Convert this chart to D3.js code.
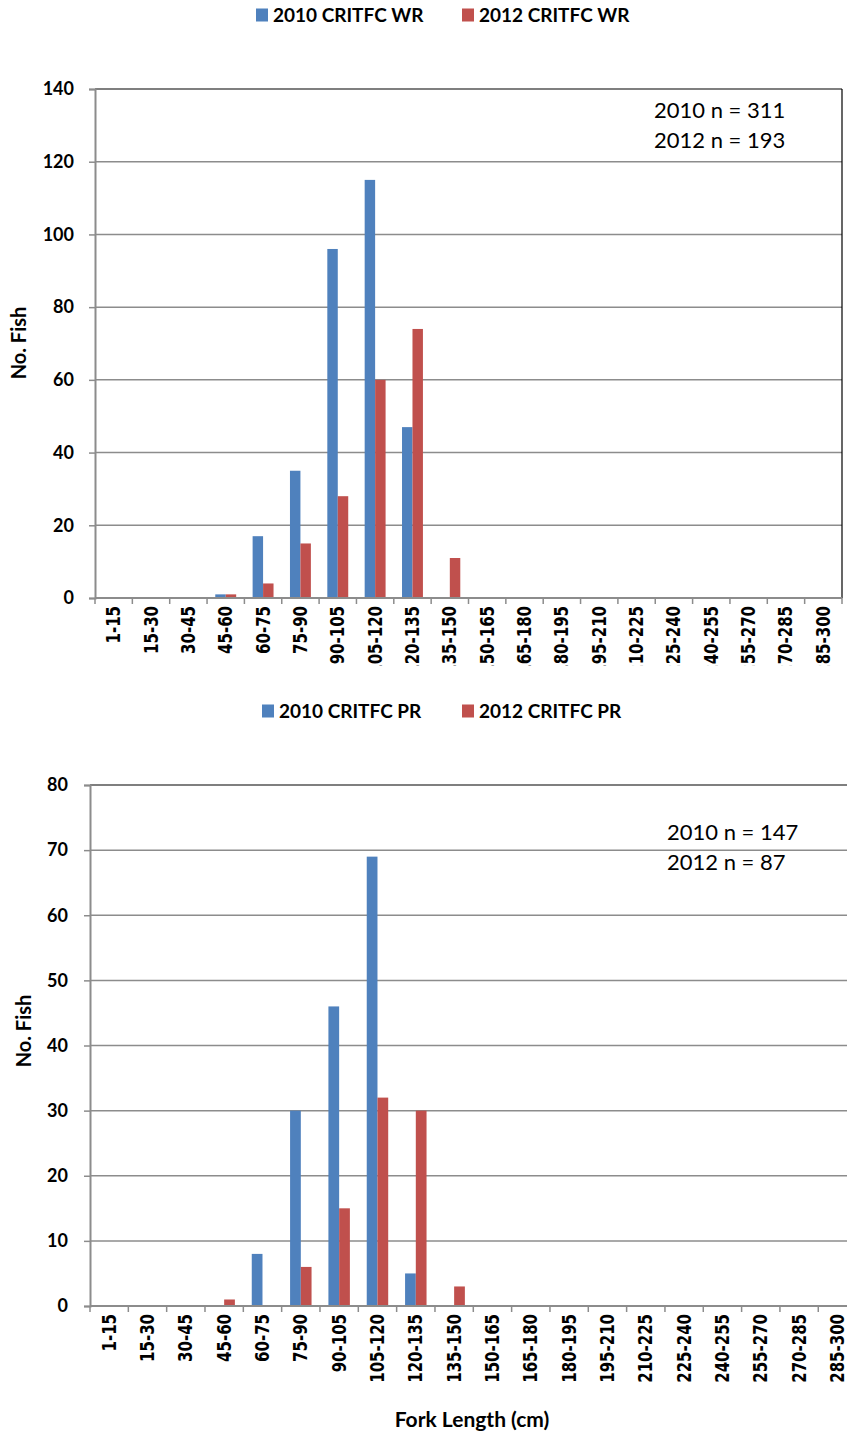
<!DOCTYPE html>
<html>
<head>
<meta charset="utf-8">
<script src="https://cdn.jsdelivr.net/npm/d3@7"></script>
<style>
  html, body { margin: 0; padding: 0; background: #fff; }
  svg { display: block; }
</style>
</head>
<body>
<svg id="chart" width="847" height="1439"></svg>
<script>
// Fork-length classes (cm)
const lengthBins = ["1-15","15-30","30-45","45-60","60-75","75-90","90-105","105-120",
  "120-135","135-150","150-165","165-180","180-195","195-210","210-225","225-240",
  "240-255","255-270","270-285","285-300"];

// Counts per length class
const wr2010 = [0,0,0,1,17,35,96,115,47,0,0,0,0,0,0,0,0,0,0,0];
const wr2012 = [0,0,0,1,4,15,28,60,74,11,0,0,0,0,0,0,0,0,0,0];
const pr2010 = [0,0,0,0,8,30,46,69,5,0,0,0,0,0,0,0,0,0,0,0];
const pr2012 = [0,0,0,1,0,6,15,32,30,3,0,0,0,0,0,0,0,0,0,0];

const yTicksWR = [0,20,40,60,80,100,120,140];
const yTicksPR = [0,10,20,30,40,50,60,70,80];

const seriesNamesWR = ["2010 CRITFC WR","2012 CRITFC WR"];
const seriesNamesPR = ["2010 CRITFC PR","2012 CRITFC PR"];
const sampleNotesWR = ["2010 n = 311","2012 n = 193"];
const sampleNotesPR = ["2010 n = 147","2012 n = 87"];

const colors = ["#4F81BD","#C0504D"];
const gridColor = "#8c8c8c";
const boldFont = "Lato, 'Open Sans', sans-serif";

const svg = d3.select("#chart");
const defs = svg.append("defs");

function drawPanel(opt) {
  const g = svg.append("g");
  const x = d3.scaleBand().domain(lengthBins).range([opt.left, opt.right]);
  const y = d3.scaleLinear().domain([0, opt.yMax]).range([opt.bottom, opt.top]);
  const bw = x.bandwidth();
  const sub = d3.scaleBand().domain([0,1]).range([bw*0.22, bw*0.78]);

  // legend
  const leg = g.append("g");
  opt.names.forEach((name, i) => {
    const lx = opt.legendX[i];
    leg.append("rect").attr("x", lx).attr("y", opt.legendY - 6.5)
      .attr("width", 12).attr("height", 13).attr("fill", colors[i]);
    leg.append("text").attr("x", lx + 17).attr("y", opt.legendY)
      .attr("dy", "0.35em").attr("font-family", boldFont).attr("font-weight", "bold")
      .attr("font-size", 19).attr("fill", "#000").text(name);
  });

  // gridlines
  g.append("g").selectAll("line").data(opt.ticks.filter(t => t > 0 && t < opt.yMax))
    .join("line")
    .attr("x1", opt.left).attr("x2", opt.right)
    .attr("y1", d => y(d)).attr("y2", d => y(d))
    .attr("stroke", gridColor).attr("stroke-width", 1.5);

  // plot frame (top / right)
  g.append("line").attr("x1", opt.left).attr("x2", opt.right)
    .attr("y1", y(opt.yMax)).attr("y2", y(opt.yMax))
    .attr("stroke", "#000").attr("stroke-width", 1.2);
  if (opt.rightBorder) {
    g.append("line").attr("x1", opt.right).attr("x2", opt.right)
      .attr("y1", y(opt.yMax)).attr("y2", y(0))
      .attr("stroke", "#000").attr("stroke-width", 1.2);
  }

  // bars
  const series = [opt.a, opt.b];
  series.forEach((vals, si) => {
    g.append("g").selectAll("rect").data(vals.map((v, i) => ({ bin: lengthBins[i], v })))
      .join("rect")
      .attr("x", d => x(d.bin) + sub(si))
      .attr("width", sub.bandwidth())
      .attr("y", d => y(d.v))
      .attr("height", d => y(0) - y(d.v))
      .attr("fill", colors[si]);
  });

  // y axis
  const yAxis = d3.axisLeft(y).tickValues(opt.ticks).tickSize(6).tickPadding(opt.yPad);
  const ya = g.append("g").attr("transform", `translate(${opt.left},0)`).call(yAxis);
  ya.select(".domain").attr("stroke", gridColor).attr("stroke-width", 2);
  ya.selectAll(".tick line").attr("stroke", gridColor).attr("stroke-width", 1.5);
  ya.selectAll(".tick text").attr("font-family", boldFont).attr("font-weight", "bold")
    .attr("font-size", 18).attr("fill", "#000");

  // x axis (ticks on band boundaries)
  const xa = g.append("g").attr("transform", `translate(0,${opt.bottom})`);
  xa.append("line").attr("x1", opt.left).attr("x2", opt.right)
    .attr("stroke", gridColor).attr("stroke-width", 2);
  xa.selectAll("line.tk").data(lengthBins.map((b, i) => i).concat([lengthBins.length]))
    .join("line").attr("class", "tk")
    .attr("x1", i => opt.left + i * bw).attr("x2", i => opt.left + i * bw)
    .attr("y1", 0).attr("y2", 6)
    .attr("stroke", gridColor).attr("stroke-width", 1.5);

  // rotated class labels, clipped to the chart area
  const clipId = "clip" + opt.id;
  defs.append("clipPath").attr("id", clipId).append("rect")
    .attr("x", 0).attr("y", opt.bottom).attr("width", 847).attr("height", opt.labelClip - opt.bottom);
  const lab = g.append("g").attr("clip-path", `url(#${clipId})`);
  lab.selectAll("text").data(lengthBins).join("text")
    .attr("transform", d => `translate(${x(d) + bw / 2 + 6.5},${opt.bottom + 8}) rotate(-90) scale(1,1.3)`)
    .attr("text-anchor", "end")
    .attr("font-family", "'DejaVu Sans', sans-serif").attr("font-weight", "bold")
    .attr("font-size", 15).attr("fill", "#000").text(d => d);

  // y title
  g.append("text")
    .attr("transform", `translate(${opt.yTitleX},${opt.yTitleY}) rotate(-90)`)
    .attr("text-anchor", "middle").attr("dy", "0.35em")
    .attr("font-family", boldFont).attr("font-weight", "bold").attr("font-size", 20)
    .text("No. Fish");

  // sample sizes
  opt.notes.forEach((t, i) => {
    g.append("text").attr("x", opt.noteX).attr("y", opt.noteY + i * 30)
      .attr("dy", "0.35em").attr("font-family", "Lato, 'Open Sans', sans-serif")
      .attr("font-size", 22).attr("fill", "#000").text(t);
  });
}

drawPanel({
  id: "wr", a: wr2010, b: wr2012, names: seriesNamesWR, notes: sampleNotesWR,
  left: 95, right: 842, top: 89, bottom: 598, yMax: 140, ticks: yTicksWR, yPad: 15,
  rightBorder: true, labelClip: 665.5,
  legendX: [256, 462], legendY: 15,
  yTitleX: 19, yTitleY: 343, noteX: 654, noteY: 110
});

drawPanel({
  id: "pr", a: pr2010, b: pr2012, names: seriesNamesPR, notes: sampleNotesPR,
  left: 90, right: 856.6, top: 785, bottom: 1306, yMax: 80, ticks: yTicksPR, yPad: 16,
  rightBorder: false, labelClip: 1410,
  legendX: [262, 462], legendY: 711,
  yTitleX: 24, yTitleY: 1031, noteX: 667, noteY: 832
});

svg.append("text").attr("x", 472).attr("y", 1420).attr("dy", "0.35em")
  .attr("text-anchor", "middle").attr("font-family", boldFont).attr("font-weight", "bold")
  .attr("font-size", 21).text("Fork Length (cm)");
</script>
</body>
</html>
